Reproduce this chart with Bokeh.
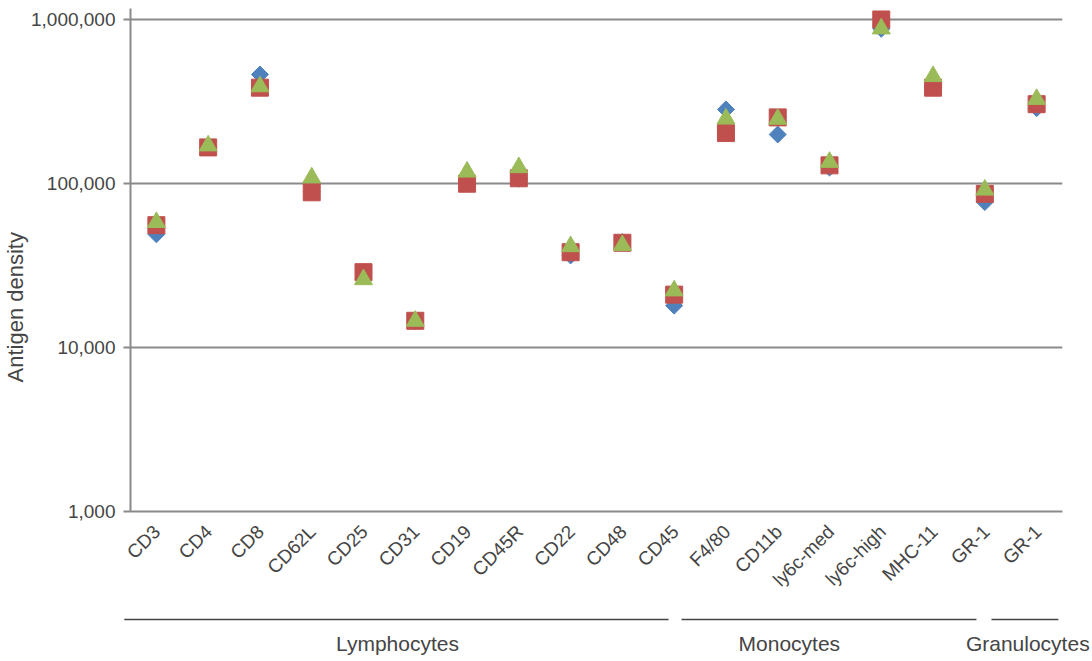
import math
from bokeh.plotting import figure
from bokeh.layouts import column
from bokeh.models import (Range1d, FactorRange, FixedTicker, NumeralTickFormatter,
                          ColumnDataSource, Title)
from bokeh.core.properties import value
from bokeh.embed import file_html
from bokeh.resources import INLINE

# ---------------- data ----------------
markers = ["CD3", "CD4", "CD8", "CD62L", "CD25", "CD31", "CD19", "CD45R", "CD22",
           "CD48", "CD45", "F4/80", "CD11b", "ly6c-med", "ly6c-high", "MHC-11",
           "GR-1", "GR-1"]
series_blue = [49000, 166000, 462000, 89000, 28500, 14500, 100000, 107000, 36400,
               44000, 18000, 283000, 199000, 125000, 877000, 384000, 77000, 288000]
series_red = [55700, 166000, 384000, 88400, 28800, 14550, 99700, 107600, 38100,
              43500, 21000, 203000, 253000, 129000, 1000000, 384000, 86500, 304500]
series_green = [58000, 170000, 390000, 108500, 26000, 14500, 117700, 125300, 41300,
                42000, 22200, 248000, 247000, 135000, 879000, 450000, 91400, 326600]
groups = ["Lymphocytes", "Monocytes", "Granulocytes"]
y_ticks = [1000, 10000, 100000, 1000000]

# ---------------- layout / style constants ----------------
FONT = "Liberation Sans"
TXT = "#454545"
GRID = "#8a8a8a"
W, H = 1092, 661
BORDER_L, BORDER_R = 129, 30
MAIN_H = 521
# group brackets (in category units, 0 = left edge of first category)
group_line_spans = [(-0.1, 10.4), (10.65, 16.34), (16.63, 17.92)]
group_label_x = [5.17, 12.73, 17.33]
tick_label_dx = 0.03

# unique factor names (the two GR-1 columns are different cell types)
factors = []
for m in markers:
    f = m
    while f in factors:
        f += "\u200b"
    factors.append(f)

main = figure(width=W, height=MAIN_H, output_backend="svg", toolbar_location=None,
              y_axis_type="log",
              x_range=FactorRange(factors=factors, range_padding=0),
              y_range=Range1d(1000, 1.167e6),
              min_border_left=BORDER_L, min_border_right=BORDER_R, min_border_top=8,
              min_border_bottom=MAIN_H - 511)
main.outline_line_color = None

# y axis
main.yaxis.ticker = FixedTicker(ticks=y_ticks)
main.yaxis.formatter = NumeralTickFormatter(format="0,0")
main.yaxis.major_label_text_font = FONT
main.yaxis.major_label_text_font_size = "19px"
main.yaxis.major_label_text_color = TXT
main.yaxis.axis_line_color = GRID
main.yaxis.axis_line_width = 2
main.yaxis.major_tick_line_color = GRID
main.yaxis.major_tick_line_width = 2
main.yaxis.major_tick_out = 7
main.yaxis.major_tick_in = 0
main.yaxis.minor_tick_line_color = None
main.yaxis.major_label_standoff = 8

main.add_layout(Title(text="Antigen density", align="left", offset=129,
                      text_font=FONT, text_font_size="22px", text_color=TXT,
                      text_font_style="normal", standoff=0), "left")

# x axis: line only, labels drawn below in the strip (rotated)
main.xaxis.major_label_text_font_size = "0px"
main.xaxis.major_label_text_color = None
main.xaxis.major_label_standoff = 0
main.xaxis.axis_line_color = GRID
main.xaxis.axis_line_width = 2
main.xaxis.major_tick_line_color = None
main.xaxis.minor_tick_line_color = None
main.xaxis.major_tick_out = 0

main.xgrid.grid_line_color = None
main.ygrid.ticker = FixedTicker(ticks=y_ticks)
main.ygrid.grid_line_color = GRID
main.ygrid.grid_line_width = 2

src = ColumnDataSource(dict(x=factors, blue=series_blue, red=series_red,
                            green=series_green))

main.scatter("x", "blue", source=src, marker="square", angle=math.pi / 4, size=12,
             fill_color="#4F81BD", line_color="#4F81BD", line_width=1)
main.scatter("x", "red", source=src, marker="square", size=17,
             fill_color="#C0504D", line_color="#C0504D", line_width=1)
main.scatter("x", "green", source=src, marker="triangle", size=18,
             fill_color="#9BBB59", line_color="#9BBB59", line_width=1)

# ---------------- strip below: rotated category labels + group brackets ----------
STRIP_H = H - MAIN_H
n = len(markers)
cat_px = (W - BORDER_L - BORDER_R) / n
strip = figure(width=W, height=STRIP_H, output_backend="svg", toolbar_location=None,
               x_range=Range1d(-BORDER_L / cat_px, n + BORDER_R / cat_px),
               y_range=Range1d(0, STRIP_H),
               min_border_left=0, min_border_right=0, min_border_top=0,
               min_border_bottom=0)
strip.frame_align = False
main.frame_align = False
strip.axis.visible = False
strip.grid.grid_line_color = None
strip.outline_line_color = None

tsrc = ColumnDataSource(dict(x=[i + 0.5 + tick_label_dx for i in range(n)],
                             y=[H - 528] * n, text=markers))
strip.text(x="x", y="y", text="text", source=tsrc, angle=math.pi / 4,
           text_align="right", text_baseline="middle", text_font=value(FONT),
           text_font_size="19px", text_color=TXT)

gsrc = ColumnDataSource(dict(
    x0=[s[0] for s in group_line_spans], x1=[s[1] for s in group_line_spans],
    y=[H - 619] * len(groups), lx=group_label_x, ly=[18] * len(groups),
    name=groups))
strip.segment(x0="x0", y0="y", x1="x1", y1="y", source=gsrc, line_color="#444444",
              line_width=1.5)
strip.text(x="lx", y="ly", text="name", source=gsrc, text_align="center",
           text_baseline="alphabetic", text_font=value(FONT), text_font_size="21px",
           text_color=TXT)

layout = column(main, strip, spacing=0)
open("out.html", "w").write(file_html(layout, INLINE))
